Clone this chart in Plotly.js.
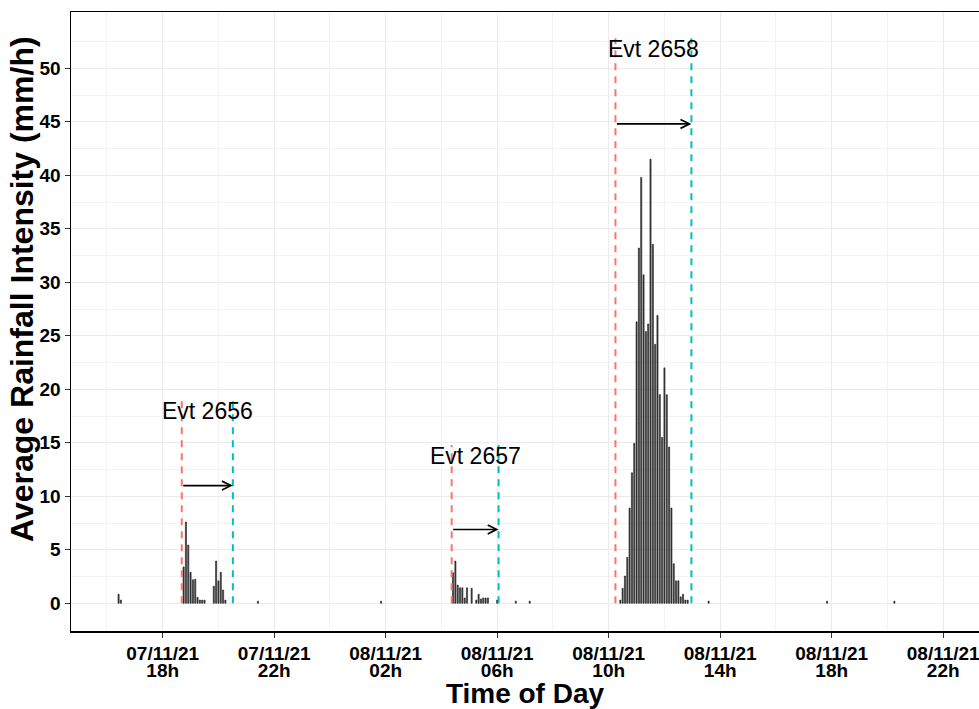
<!DOCTYPE html>
<html><head><meta charset="utf-8">
<script src="https://cdn.plot.ly/plotly-3.0.1.min.js"></script>
<style>html,body{margin:0;padding:0;background:#fff;overflow:hidden}#chart{width:979px;height:709px}</style>
</head><body><div id="chart"></div>
<script>
// 5-minute average rainfall intensity (mm/h)
const rainTimes = [
  '2021-11-07 16:25','2021-11-07 16:30',
  '2021-11-07 18:45','2021-11-07 18:50','2021-11-07 18:55','2021-11-07 19:00','2021-11-07 19:05',
  '2021-11-07 19:10','2021-11-07 19:15','2021-11-07 19:20','2021-11-07 19:25','2021-11-07 19:30',
  '2021-11-07 19:50','2021-11-07 19:55','2021-11-07 20:00','2021-11-07 20:05','2021-11-07 20:10','2021-11-07 20:15',
  '2021-11-07 21:25',
  '2021-11-08 01:50',
  '2021-11-08 04:25','2021-11-08 04:30','2021-11-08 04:35','2021-11-08 04:40','2021-11-08 04:45',
  '2021-11-08 04:50','2021-11-08 04:55','2021-11-08 05:05',
  '2021-11-08 05:15','2021-11-08 05:20','2021-11-08 05:25','2021-11-08 05:30','2021-11-08 05:35','2021-11-08 05:40',
  '2021-11-08 06:00','2021-11-08 06:40','2021-11-08 07:10',
  '2021-11-08 10:25','2021-11-08 10:30','2021-11-08 10:35','2021-11-08 10:40','2021-11-08 10:45','2021-11-08 10:50',
  '2021-11-08 10:55','2021-11-08 11:00','2021-11-08 11:05','2021-11-08 11:10','2021-11-08 11:15','2021-11-08 11:20',
  '2021-11-08 11:25','2021-11-08 11:30','2021-11-08 11:35','2021-11-08 11:40','2021-11-08 11:45','2021-11-08 11:50',
  '2021-11-08 11:55','2021-11-08 12:00','2021-11-08 12:05','2021-11-08 12:10','2021-11-08 12:15','2021-11-08 12:20',
  '2021-11-08 12:25','2021-11-08 12:30','2021-11-08 12:35','2021-11-08 12:40','2021-11-08 12:45','2021-11-08 12:50',
  '2021-11-08 13:35','2021-11-08 17:50','2021-11-08 20:15'
];
const rainValues = [
  0.85, 0.3,
  3.4, 7.6, 5.45, 2.9, 2.2,
  2.25, 0.55, 0.3, 0.3, 0.3,
  1.6, 3.95, 2.1, 2.9, 1.25, 0.3,
  0.2,
  0.2,
  2.85, 3.95, 1.7, 1.45, 1.45,
  0.5, 1.45, 1.4,
  0.3, 0.85, 0.4, 0.5, 0.5, 0.5,
  0.3, 0.2, 0.2,
  0.3, 1.4, 2.55, 4.3, 8.9, 12.2,
  14.95, 26.3, 33.2, 39.8, 30.7, 25.4,
  26.1, 41.5, 33.55, 24.2, 26.9, 19.5,
  15.5, 22.0, 19.5, 14.6, 8.9, 3.7,
  2.1, 2.1, 0.6, 0.85, 0.3, 0.3,
  0.2, 0.2, 0.2
];

// x-axis ticks (date line + hour line)
const tickTimes = ['2021-11-07 18:00','2021-11-07 22:00','2021-11-08 02:00','2021-11-08 06:00',
                   '2021-11-08 10:00','2021-11-08 14:00','2021-11-08 18:00','2021-11-08 22:00'];
const tickDates = ['07/11/21','07/11/21','08/11/21','08/11/21','08/11/21','08/11/21','08/11/21','08/11/21'];
const tickHours = ['18h','22h','02h','06h','10h','14h','18h','22h'];
const yTicks = [0, 5, 10, 15, 20, 25, 30, 35, 40, 45, 50];

// rain events
const evtNames  = ['Evt 2656','Evt 2657','Evt 2658'];
const evtStart  = ['2021-11-07 18:41','2021-11-08 04:22','2021-11-08 10:14:30'];
const evtEnd    = ['2021-11-07 20:31','2021-11-08 06:03','2021-11-08 12:58'];
const evtLabelY = [18.0, 13.8, 51.8];
const evtArrowY = [11.0, 6.9, 44.8];

const FONT = 'Arial, "Liberation Sans", sans-serif';
const startColor = '#F8766D', endColor = '#00BFC4';
const X_RANGE = ['2021-11-07 14:42:37', '2021-11-08 23:17:03'];

function midTime(a, b) {
  const ta = new Date(a.replace(' ', 'T')).getTime();
  const tb = new Date(b.replace(' ', 'T')).getTime();
  const d = new Date((ta + tb) / 2);
  const p = n => String(n).padStart(2, '0');
  return d.getFullYear() + '-' + p(d.getMonth() + 1) + '-' + p(d.getDate()) + ' ' +
         p(d.getHours()) + ':' + p(d.getMinutes()) + ':' + p(d.getSeconds());
}

const shapes = [], annotations = [];
evtNames.forEach((name, i) => {
  const top = evtLabelY[i] + 1;
  shapes.push({type: 'line', xref: 'x', yref: 'y', x0: evtStart[i], x1: evtStart[i], y0: 0, y1: top,
               line: {color: startColor, width: 2, dash: '7px,6px'}});
  shapes.push({type: 'line', xref: 'x', yref: 'y', x0: evtEnd[i], x1: evtEnd[i], y0: 0, y1: top,
               line: {color: endColor, width: 2, dash: '7px,6px'}});
  annotations.push({x: evtEnd[i], y: evtArrowY[i], ax: evtStart[i], ay: evtArrowY[i],
                    xref: 'x', yref: 'y', axref: 'x', ayref: 'y', text: '', showarrow: true,
                    arrowhead: 5, arrowsize: 1.1, arrowwidth: 1.6, arrowcolor: '#000'});
  annotations.push({x: midTime(evtStart[i], evtEnd[i]), y: evtLabelY[i], xref: 'x', yref: 'y',
                    text: name, showarrow: false, xanchor: 'center', yanchor: 'middle',
                    font: {family: FONT, size: 23, color: '#000'}});
});

// y-axis title (placed as in the reference, slightly above the panel centre)
annotations.push({text: 'Average Rainfall Intensity (mm/h)', textangle: -90,
                  xref: 'paper', yref: 'paper', x: -0.054, y: 0.5525,
                  xanchor: 'center', yanchor: 'middle', showarrow: false,
                  font: {family: FONT, size: 32, color: '#000', weight: 'bold'}});

const bars = {
  type: 'bar', x: rainTimes, y: rainValues, width: 150000,
  marker: {color: '#4d4d4d', line: {color: '#000', width: 0.5}},
  hoverinfo: 'x+y'
};
// invisible carrier for the second (hour) tick-label row
const hourRow = {
  type: 'scatter', mode: 'markers', x: tickTimes, y: tickTimes.map(() => 0), xaxis: 'x2',
  marker: {opacity: 0}, hoverinfo: 'skip', showlegend: false
};

const tickFont = {family: FONT, size: 19, color: '#000', weight: 'bold'};

const layout = {
  width: 979, height: 709,
  margin: {l: 71, r: 0, t: 12, b: 78},
  paper_bgcolor: '#fff', plot_bgcolor: '#fff',
  showlegend: false,
  font: {family: FONT, color: '#000'},
  xaxis: {
    type: 'date', range: X_RANGE,
    tickmode: 'array', tickvals: tickTimes, ticktext: tickDates,
    tickfont: tickFont, ticklabeloverflow: 'allow',
    ticks: 'outside', ticklen: 5, tickwidth: 1, tickcolor: '#333',
    showgrid: true, gridcolor: '#EBEBEB', gridwidth: 1,
    minor: {tickmode: 'linear', tick0: '2021-11-07 16:00', dtick: 7200000,
            showgrid: true, gridcolor: '#F3F3F3', gridwidth: 1, ticks: ''},
    showline: true, linecolor: '#000', linewidth: 1.5, mirror: true,
    zeroline: false,
    title: {text: 'Time of Day', font: {family: FONT, size: 28, color: '#000', weight: 'bold'}, standoff: 26}
  },
  xaxis2: {
    type: 'date', range: X_RANGE, matches: 'x', overlaying: 'x', anchor: 'y', side: 'bottom',
    tickmode: 'array', tickvals: tickTimes, ticktext: tickHours,
    tickfont: tickFont, ticklabelstandoff: 26, ticklabeloverflow: 'allow',
    ticks: '', showgrid: false, showline: false, zeroline: false
  },
  yaxis: {
    range: [-2.59, 55.26],
    tickmode: 'array', tickvals: yTicks,
    tickfont: tickFont,
    ticks: 'outside', ticklen: 5, tickwidth: 1, tickcolor: '#333',
    showgrid: true, gridcolor: '#EBEBEB', gridwidth: 1,
    minor: {tickmode: 'linear', tick0: 2.5, dtick: 5, showgrid: true, gridcolor: '#F3F3F3', gridwidth: 1, ticks: ''},
    showline: true, linecolor: '#000', linewidth: 1.5, mirror: false,
    zeroline: false
  },
  shapes: shapes,
  annotations: annotations
};

Plotly.newPlot('chart', [bars, hourRow], layout, {displayModeBar: false, staticPlot: true});
</script>
</body></html>
